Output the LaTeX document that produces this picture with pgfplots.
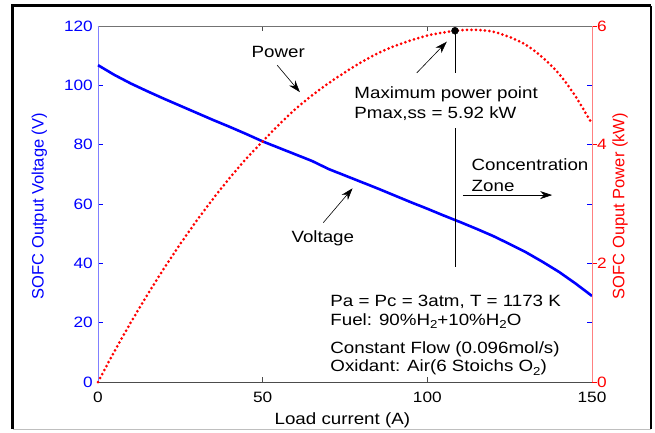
\documentclass[border=0pt]{standalone}
\usepackage{pgfplots}
\pgfplotsset{compat=1.18}
\usepackage{pgfplotstable}
\usepackage{fontspec}
\setmainfont[FakeStretch=1.15]{Liberation Sans}
\newfontfamily\rotfont{Liberation Sans}
\usetikzlibrary{arrows.meta}
\newcommand{\sub}[1]{\raisebox{-0.4ex}{\fontsize{11.5}{12}\selectfont #1}}

\pgfplotstableread{
I V
0 106.8
5 103.5
10 100.6
15 98.0
20 95.5
25 93.1
30 90.7
35 88.3
40 86.0
45 83.6
50 81.1
55 78.9
60 76.7
65 74.5
70 71.8
75 69.6
80 67.4
85 65.2
90 62.9
95 60.6
100 58.4
105 56.1
110 53.9
115 51.6
120 49.2
125 46.5
130 43.7
135 40.5
140 37.1
145 33.2
150 29.0
}\voltdata

\pgfplotstableread{
I P
0 0
5 0.518
10 1.006
15 1.470
20 1.910
25 2.328
30 2.721
35 3.091
40 3.440
45 3.762
50 4.055
55 4.340
60 4.602
65 4.830
70 5.035
75 5.220
80 5.392
85 5.542
90 5.661
95 5.757
100 5.840
105 5.891
110 5.929
115 5.934
120 5.904
125 5.813
130 5.681
135 5.468
140 5.194
145 4.814
150 4.350
}\powdata

\begin{document}
\begin{tikzpicture}[font=\fontsize{16.3}{19}\selectfont,
  arr/.style={line width=0.6pt, -{Stealth[length=12pt,width=8pt]}}]
\path[use as bounding box] (-98pt,-50pt) rectangle (557pt,382pt);
\fill[white] (-98pt,-50pt) rectangle (557pt,382pt);
\draw[line width=3pt] (-85pt,-47pt) -- (-85pt,376pt) -- (553pt,376pt);
\draw[line width=1.5pt] (553pt,376pt) -- (553pt,-47pt);
\draw[line width=1pt, black!25] (-85pt,-47pt) -- (553pt,-47pt);
\begin{axis}[
  scale only axis, width=494pt, height=356pt,
  xmin=0, xmax=150, ymin=0, ymax=120,
  xtick={0,50,100,150}, ytick={0,20,...,120},
  axis line style={draw=none},
  tick align=inside, major tick length=5pt,
  xtick style={black!70, line width=0.6pt},
  ytick style={blue, line width=0.6pt},
  /pgf/number format/assume math mode=true,
  xticklabel style={black, font=\fontsize{15}{15}\selectfont, inner sep=0pt, yshift=-9.5pt},
  yticklabel style={blue, font=\fontsize{15}{15}\selectfont, inner sep=0pt, xshift=-5pt},
  clip=false,
]
\draw[black!70, line width=0.8pt] (rel axis cs:0,0) -- (rel axis cs:1,0);
\draw[black!55, line width=0.8pt] (rel axis cs:0,1) -- (rel axis cs:1,1);
\draw[blue!50, line width=0.8pt] (rel axis cs:0,0) -- (rel axis cs:0,1);
\addplot[blue, line width=2.6pt] table[x=I, y=V] {\voltdata};

\node[rotate=90, blue, font=\rotfont\fontsize{16.5}{19}\selectfont] at (axis cs:-17.8,59.3) {SOFC Output Voltage (V)};
\node[rotate=90, red, font=\rotfont\fontsize{16.5}{19}\selectfont] at (axis cs:158.5,59.3) {SOFC Ouput Power (kW)};
\node[anchor=base] at (axis cs:74.2,-14.3) {Load current (A)};

\node[anchor=base west] at (axis cs:45.6,109.4) {Power};
\draw[arr] (axis cs:54.4,106.8) -- (axis cs:61.3,97.7);
\node[anchor=base west] at (axis cs:76.8,95.6) {Maximum power point};
\node[anchor=base west] at (axis cs:76.8,88.9) {Pmax,ss = 5.92 kW};
\draw[arr] (axis cs:96.8,104.2) -- (axis cs:105.9,114.7);
\draw[line width=0.7pt] (axis cs:108.4,118.4) -- (axis cs:108.4,104.1);
\draw[line width=0.7pt] (axis cs:108.4,85.6) -- (axis cs:108.4,38.8);
\node[anchor=base west] at (axis cs:112.4,71.2) {Concentration};
\node[anchor=base west] at (axis cs:112.4,64.1) {Zone};
\draw[arr] (axis cs:110.8,63.0) -- (axis cs:137.9,63.0);
\node[anchor=base west] at (axis cs:57.7,47.0) {Voltage};
\draw[arr] (axis cs:68.4,53.7) -- (axis cs:77.3,65.3);
\node[anchor=base west] at (axis cs:69.5,25.4) {Pa = Pc = 3atm, T = 1173 K};
\node[anchor=base west] at (axis cs:69.5,19.2) {Fuel: 90\%H\sub{2}+10\%H\sub{2}O};
\node[anchor=base west] at (axis cs:69.5,9.7) {Constant Flow (0.096mol/s)};
\node[anchor=base west] at (axis cs:69.5,3.5) {Oxidant: Air(6 Stoichs O\sub{2})};
\end{axis}
\begin{axis}[
  scale only axis, width=494pt, height=356pt,
  xmin=0, xmax=150, ymin=0, ymax=6,
  axis x line=none, axis y line*=right,
  ytick={0,2,4,6},
  axis line style={-, red!50, line width=0.8pt},
  tick align=outside, major tick length=5pt,
  ytick style={red, line width=0.6pt},
  /pgf/number format/assume math mode=true,
  yticklabel style={red, font=\fontsize{15}{15}\selectfont, inner sep=0pt, xshift=0pt},
  clip=false,
]
\addplot[red, line width=3pt, dash pattern=on 0pt off 4.5pt, line cap=round, smooth] table[x=I, y=P] {\powdata};
\addplot[only marks, mark=*, mark size=3.5pt, black] coordinates {(108.4,5.92)};
\end{axis}
\end{tikzpicture}
\end{document}
